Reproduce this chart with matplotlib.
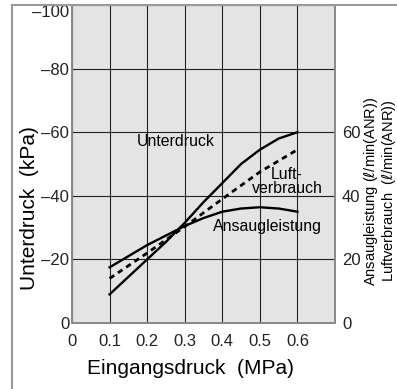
import matplotlib
matplotlib.use("Agg")
import matplotlib.pyplot as plt
from matplotlib.patches import Rectangle

plt.rcParams['font.family'] = ['Liberation Sans', 'DejaVu Sans']
plt.rcParams['mathtext.fontset'] = 'dejavusans'

# Data
pressure = [0.1, 0.15, 0.2, 0.25, 0.3, 0.35, 0.4, 0.45, 0.5, 0.55, 0.6]
vacuum = [-9, -14.5, -20, -25.5, -31.5, -38, -44, -50, -54.5, -58, -60]
suction = [17.5, 21, 24.5, 27.5, 30.5, 33, 35, 36, 36.4, 36, 35]
air_pressure = [0.1, 0.2, 0.3, 0.4, 0.5, 0.6]
air_consumption = [14, 22, 30.3, 39, 47.5, 54.5]

x_ticks = [0, 0.1, 0.2, 0.3, 0.4, 0.5, 0.6]
left_ticks = [0, -20, -40, -60, -80, -100]
right_ticks = [0, 20, 40, 60]

fig = plt.figure(figsize=(3.97, 3.89), dpi=100)

# outer gray frame (runs off the right and bottom edges)
fig.patches.append(Rectangle((12 / 397, -0.1), 1.2, 1.1 - 5 / 389, transform=fig.transFigure,
                             fill=False, edgecolor='#9a9a9a', linewidth=1.5, zorder=0))

ax = fig.add_axes([72 / 397, 1 - 323 / 389, 263 / 397, 318 / 389])
ax.set_facecolor('#e4e4e4')
ax.set_xlim(0, 0.7)
ax.set_ylim(0, -100)
ax.set_xticks([0, 0.1, 0.2, 0.3, 0.4, 0.5, 0.6, 0.7])
ax.set_xticklabels([str(t) for t in x_ticks] + [''])
ax.set_yticks(left_ticks)
ax.set_yticklabels(['0', '–20', '–40', '–60', '–80', '–100'])
ax.grid(True, color='#222222', linewidth=0.8)
ax.set_axisbelow(True)
ax.tick_params(length=0, labelsize=12, colors='#222222')
ax.tick_params(axis='x', pad=8)
ax.tick_params(axis='y', pad=2)
ax.get_yticklabels()[-1].set_va('top')
for s in ax.spines.values():
    s.set_color('#888888')
    s.set_linewidth(1.2)

ax.plot(pressure, vacuum, color='black', linewidth=1.7)

ax2 = ax.twinx()
ax2.set_ylim(0, 100)
ax2.set_yticks(right_ticks)
ax2.tick_params(length=0, labelsize=12, pad=5, colors='#222222')
for s in ax2.spines.values():
    s.set_color('#888888')
    s.set_linewidth(1.2)
ax2.plot(pressure, suction, color='black', linewidth=1.7)
ax2.plot(air_pressure, air_consumption, color='black', linewidth=2.0, linestyle=(0, (2, 1.6)))

ax.set_xlabel('Eingangsdruck  (MPa)', fontsize=15)
ax.set_ylabel('Unterdruck  (kPa)', fontsize=15)
ax.yaxis.set_label_coords(-0.163, (323 - 208) / 318)
ax.xaxis.set_label_coords(0.452, -(368 - 323) / 318)
ax.xaxis.label.set_va('center')
ax.yaxis.label.set_va('center')

# right-hand axis title, two lines
fig.text(380 / 397, 1 - 191 / 389,
         'Ansaugleistung ($\\ell$/min(ANR))\nLuftverbrauch  ($\\ell$/min(ANR))',
         rotation=90, ha='center', va='center', multialignment='center',
         fontsize=10.5, linespacing=1.05)

ax.text(0.173, -57, 'Unterdruck', fontsize=11.4, ha='left', va='center')
ax.text(0.572, -44.5, 'Luft-\nverbrauch', fontsize=11.4, ha='center', va='center',
        linespacing=0.9)
ax.text(0.375, -30.5, 'Ansaugleistung', fontsize=11.4, ha='left', va='center')

fig.savefig('out.png', dpi=100)
